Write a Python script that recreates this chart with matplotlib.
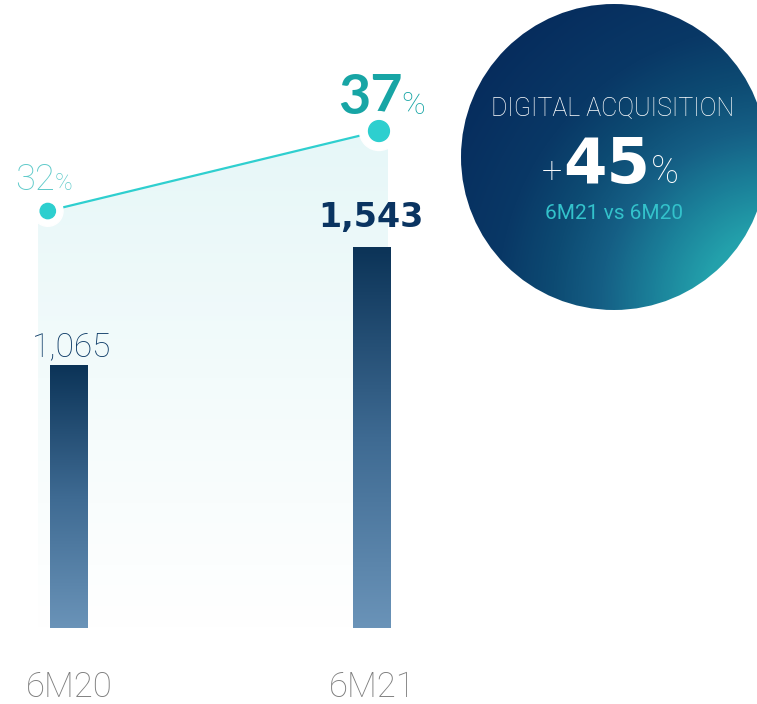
import numpy as np
import matplotlib
matplotlib.use("Agg")
import matplotlib.pyplot as plt
from matplotlib.colors import LinearSegmentedColormap
from matplotlib.patches import Circle, Polygon

# data
periods = ["6M20", "6M21"]
clients = [1065, 1543]              # digital acquisition, thousands
digital_share = [32, 37]            # % of total sales
growth_label = "45"
comparison = "6M21 vs 6M20"
headline = "DIGITAL ACQUISITION"

plt.rcParams["font.family"] = ["Roboto", "DejaVu Sans"]
THIN = dict(family=["Roboto", "DejaVu Sans"], fontweight="light")
BOLD = dict(family=["Lato", "DejaVu Sans"], fontweight="bold")
WIDE = dict(family=["DejaVu Sans"], fontweight="bold")

W, H = 757, 704
fig = plt.figure(figsize=(W / 100, H / 100), dpi=100)

# main axes: bars in value units
ax = fig.add_axes([0, 0, 1, 1])
ax.axis("off")

# percentage axes, drawn underneath the bars
ax2 = ax.twinx()
ax2.axis("off")
ax.set_zorder(2)
ax2.set_zorder(1)
ax.patch.set_visible(False)

x = np.arange(len(periods))
bars = ax.bar(x, clients, width=0.125, color="none", zorder=3)

bar_cmap = LinearSegmentedColormap.from_list("bar", ["#6a93b8", "#3e6a92", "#0b3357"])
grad = np.linspace(0, 1, 256).reshape(-1, 1)
for b in bars:
    x0, w, h = b.get_x(), b.get_width(), b.get_height()
    im = ax.imshow(grad, cmap=bar_cmap, origin="lower", aspect="auto",
                   extent=[x0, x0 + w, 0, h], zorder=3)
    im.set_clip_path(b)
ax.set_xlim(-0.2277, 2.2706)
ax.set_ylim(-307.7, 2542.5)

line_x = x + np.array([-0.07, 0.023])

# area under the line, fading to white
ax_x0, ax_x1 = -0.102, 1.053
slope = (digital_share[1] - digital_share[0]) / (line_x[1] - line_x[0])
top0 = digital_share[0] + slope * (ax_x0 - line_x[0])
top1 = digital_share[0] + slope * (ax_x1 - line_x[0])
base = 32 - (628 - 211) / 16
area = Polygon([(ax_x0, base), (ax_x0, top0), (ax_x1, top1), (ax_x1, base)],
               closed=True, facecolor="none", edgecolor="none")
ax2.add_patch(area)
area_cmap = LinearSegmentedColormap.from_list("area", ["#ffffff", "#f3fbfb", "#e6f7f8"])
im = ax2.imshow(grad, cmap=area_cmap, origin="lower", aspect="auto",
                extent=[ax_x0, ax_x1, base, max(top0, top1)], zorder=1)
im.set_clip_path(area)
ax2.set_xlim(-0.2277, 2.2706)
ax2.set_ylim(1.19, 45.19)

ax2.plot(line_x, digital_share, color="#2fcfcf", lw=1.6, zorder=4)
ax2.scatter(line_x, digital_share, s=[22 ** 2, 28 ** 2], color="white", zorder=5)
ax2.scatter(line_x, digital_share, s=[11 ** 2, 15 ** 2], color="#2dcfcf", zorder=6)

# percentage labels
ax2.annotate(f"{digital_share[0]}", (line_x[0], digital_share[0]), xytext=(5, 15),
             textcoords="offset points", ha="right", va="baseline",
             fontsize=26, color="#5fcaca", **THIN)
ax2.annotate("%", (line_x[0], digital_share[0]), xytext=(5, 15),
             textcoords="offset points", ha="left", va="baseline",
             fontsize=17, color="#5fcaca", **THIN)
ax2.annotate(f"{digital_share[1]}", (line_x[1], digital_share[1]), xytext=(17, 12),
             textcoords="offset points", ha="right", va="baseline",
             fontsize=40, color="#17a5a5", **BOLD)
ax2.annotate("%", (line_x[1], digital_share[1]), xytext=(16, 12),
             textcoords="offset points", ha="left", va="baseline",
             fontsize=23, color="#17a5a5", **THIN)

# value labels above bars
ax.annotate(f"{clients[0]:,}", (x[0], clients[0]), xytext=(2, 6),
            textcoords="offset points", ha="center", va="baseline",
            fontsize=24, color="#0c3a66", **THIN)
ax.annotate(f"{clients[1]:,}", (x[1], clients[1]), xytext=(-1, 14),
            textcoords="offset points", ha="center", va="baseline",
            fontsize=24, color="#0a3461", **WIDE)

# category labels
for xi, name in zip(x, periods):
    ax.annotate(name, (xi, 0), xytext=(0, -50), textcoords="offset points",
                ha="center", va="baseline", fontsize=25, color="#7d7d7d", **THIN)

# summary bubble drawn in pixel space
ov = fig.add_axes([0, 0, 1, 1], zorder=10)
ov.axis("off")
ov.patch.set_alpha(0)

cx, cy, r = 614, 157, 153
circ = Circle((cx, cy), r, facecolor="none", edgecolor="none")
ov.add_patch(circ)
gx, gy = np.meshgrid(np.linspace(-1, 1, 300), np.linspace(-1, 1, 300))
# teal glow from the lower right, navy elsewhere
d = np.hypot(gx - 1.05, gy - 0.95)
t = np.clip(d / 2.5, 0, 1)
bub_cmap = LinearSegmentedColormap.from_list(
    "bubble", [(0, "#2aaeb5"), (0.17, "#23a0ab"), (0.3, "#1b819a"),
               (0.44, "#155f85"), (0.57, "#0d4b73"), (0.72, "#093866"),
               (1, "#062b5c")])
im = ov.imshow(t, cmap=bub_cmap, extent=[cx - r, cx + r, cy + r, cy - r],
               origin="upper", zorder=1)
im.set_clip_path(circ)
ov.set_xlim(0, W)
ov.set_ylim(H, 0)

ov.text(613, 116, headline, ha="center", va="baseline", fontsize=18,
        color="white", zorder=2, **THIN)
ov.text(562, 183, "+", ha="right", va="baseline", fontsize=26,
        color="white", zorder=2, **THIN)
ov.text(607, 183, growth_label, ha="center", va="baseline", fontsize=45,
        color="white", zorder=2, **WIDE)
ov.text(651, 183, "%", ha="left", va="baseline", fontsize=27,
        color="white", zorder=2, **THIN)
ov.text(614, 219, comparison, ha="center", va="baseline", fontsize=15,
        color="#33c2cb", zorder=2, family=["Roboto", "DejaVu Sans"])

fig.savefig("out.png", dpi=100, facecolor="white")
